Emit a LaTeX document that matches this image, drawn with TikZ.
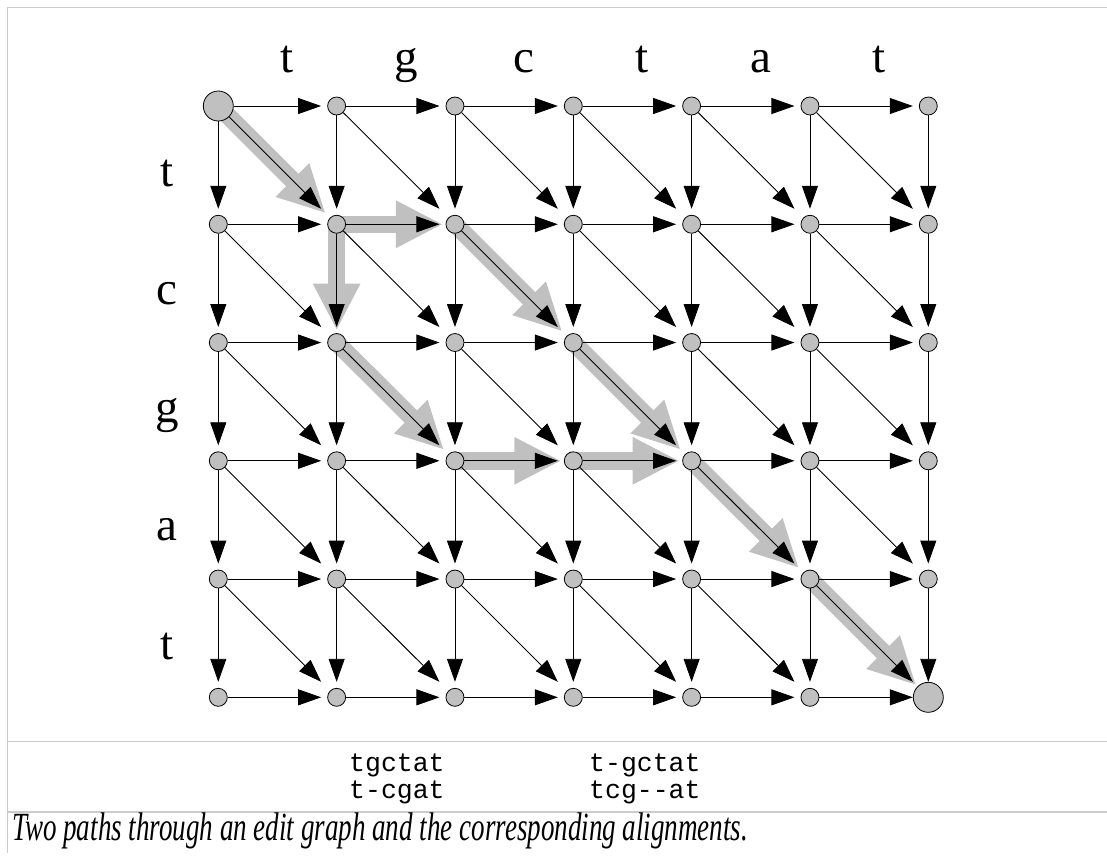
\documentclass[tikz,border=0pt]{standalone}
\usepackage{fontspec}
\usepackage{graphicx}
\setmainfont{Liberation Serif}
\newfontfamily\alnfont{Liberation Mono}
\usetikzlibrary{arrows.meta,calc}
\definecolor{nodegray}{RGB}{192,192,192}
\definecolor{pathgray}{RGB}{192,192,192}
\definecolor{rulegray}{RGB}{204,204,204}
\pgfdeclarelayer{hilite}
\pgfdeclarelayer{edges}
\pgfsetlayers{hilite,edges,main}

\begin{document}
\begin{tikzpicture}[x=1pt,y=-1pt,
  vtx/.style={circle,draw=black,line width=0.8pt,fill=nodegray,inner sep=0pt,minimum size=18pt},
  edge/.style={line width=0.9pt,-{Triangle[length=23pt,width=16pt]}},
  hl/.style={line width=17.5pt,draw=pathgray,-{Triangle[length=47pt,width=44pt]}},
  lbl/.style={font=\fontsize{47}{47}\selectfont,anchor=base,inner sep=0pt},
  aln/.style={font=\alnfont\fontsize{26.5}{27}\selectfont,anchor=base west,inner sep=0pt},
  rule/.style={draw=rulegray,line width=1.5pt}]
\useasboundingbox (0,0) rectangle (1107,863);

% frame rules
\draw[rule] (1107,7.5) -- (7.5,7.5) -- (7.5,853);
\draw[rule] (7.5,741.5) -- (1107,741.5);
\draw[rule] (7.5,812) -- (1107,812);

% vertices of the edit graph (start and end are larger)
\foreach \c in {0,...,6}{
  \foreach \r in {0,...,5}{
    \pgfmathsetmacro\ms{(((\c==0)&&(\r==0))||((\c==6)&&(\r==5))) ? 30 : 18}
    \node[vtx,minimum size=\ms pt] (n-\c-\r) at ({218.3+118.33*\c},{106+118.26*\r}) {};
  }
}

% graph edges
\begin{pgfonlayer}{edges}
\foreach \c in {0,...,5}{
  \foreach \r in {0,...,5}{
    \pgfmathtruncatemacro\cn{\c+1}
    \draw[edge] (n-\c-\r) -- ($(n-\cn-\r)+(-15.5,0)$);
  }
}
\foreach \c in {0,...,6}{
  \foreach \r in {0,...,4}{
    \pgfmathtruncatemacro\rn{\r+1}
    \draw[edge] (n-\c-\r) -- ($(n-\c-\rn)+(0,-15.5)$);
  }
}
\foreach \c in {0,...,5}{
  \foreach \r in {0,...,4}{
    \pgfmathtruncatemacro\cn{\c+1}
    \pgfmathtruncatemacro\rn{\r+1}
    \draw[edge] (n-\c-\r) -- ($(n-\cn-\rn)+(-15.5,-15.5)$);
  }
}
\end{pgfonlayer}

% the two highlighted paths
\begin{pgfonlayer}{hilite}
\foreach \a/\b/\dx/\dy in {0-0/1-1/-11/-11, 1-1/2-1/-12/0, 2-1/3-2/-11/-11,
    3-2/4-3/-11/-11, 1-1/1-2/0/-12, 1-2/2-3/-11/-11, 2-3/3-3/-12/0,
    3-3/4-3/-12/0, 4-3/5-4/-11/-11, 5-4/6-5/-12/-12}
  \draw[hl] (n-\a.center) -- ($(n-\b)+(\dx,\dy)$);
\end{pgfonlayer}

% sequence letters
\foreach \ch [count=\i from 0] in {t,g,c,t,a,t}
  \node[lbl] (top-\i) at ({218.3+118.33*(\i+0.5)+10},72) {\ch};
\foreach \ch [count=\i from 0] in {t,c,g,a,t}
  \node[lbl] (left-\i) at (167,{106+118.26*(\i+0.5)+21}) {\ch};

% alignments
\node[aln] (al1a) at (349,771.7) {tgctat};
\node[aln] (al1b) at (349,798.3) {t-cgat};
\node[aln] (al2a) at (589,771.7) {t-gctat};
\node[aln] (al2b) at (589,798.3) {tcg--at};

% caption
\node[anchor=base west,inner sep=0pt,font=\itshape\fontsize{40}{40}\selectfont] (cap) at (12,840)
  {\resizebox{736pt}{\height}{Two paths through an edit graph and the corresponding alignments.}};
\end{tikzpicture}
\end{document}
